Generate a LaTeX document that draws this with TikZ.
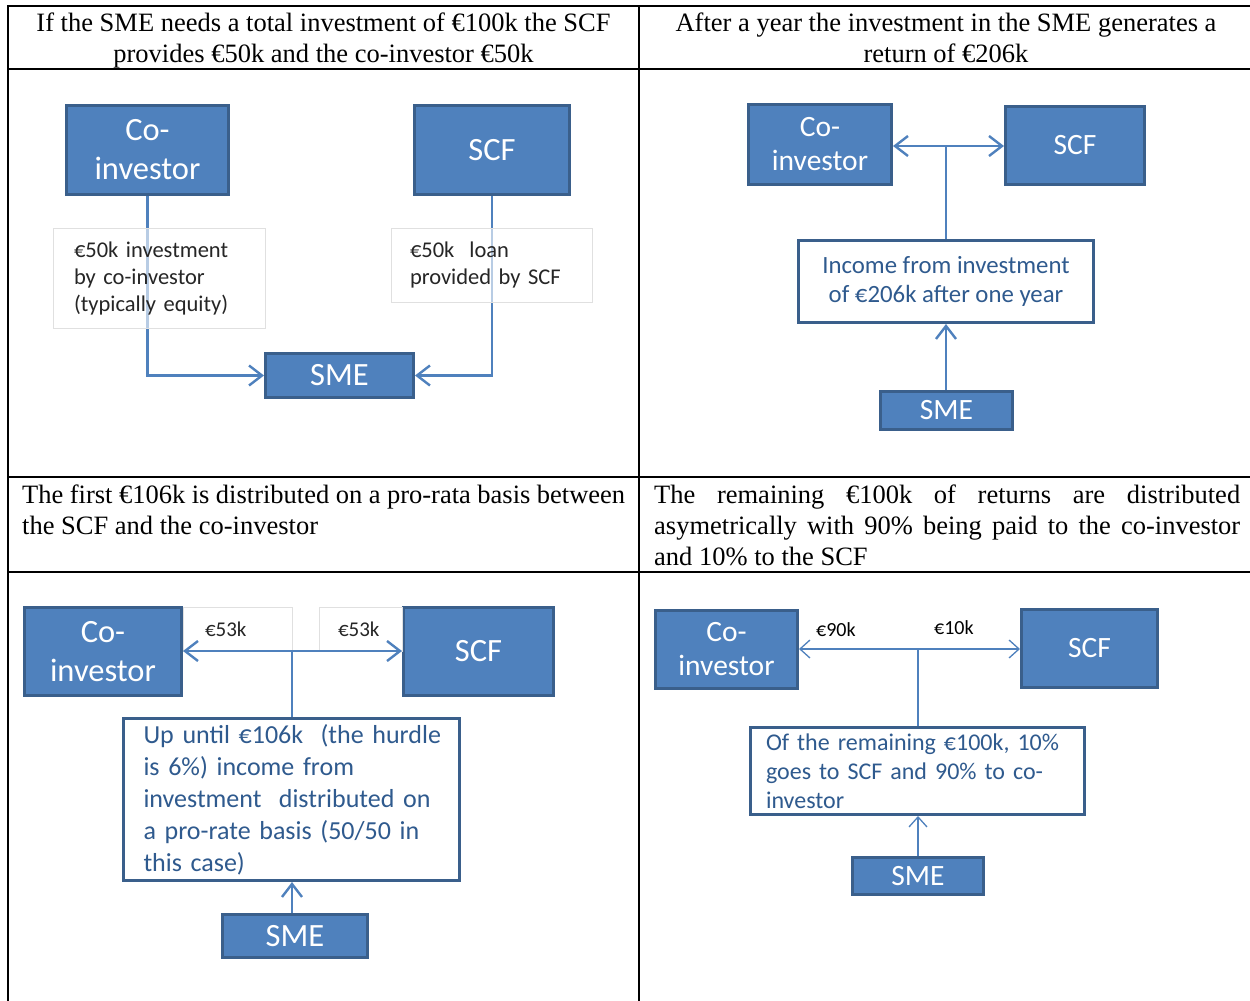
\documentclass[tikz,border=0pt]{standalone}
\usepackage{fontspec}
\setmainfont{Liberation Serif}
\newfontfamily\carl{Carlito}
\usetikzlibrary{arrows.meta}
\definecolor{boxfill}{HTML}{4F81BD}
\definecolor{boxline}{HTML}{3A5F8B}
\definecolor{conncol}{HTML}{4F81BD}
\definecolor{dtext}{HTML}{2F5A8E}
\definecolor{lgray}{HTML}{E0E0E0}
\newcommand{\bfA}{\carl\fontsize{32.5}{39}\selectfont}
\newcommand{\bfB}{\carl\fontsize{29.5}{34}\selectfont}
\begin{document}
\begin{tikzpicture}[x=1pt,y=-1pt,
  bluebox/.style={draw=boxline, fill=boxfill, line width=3pt, text=white, align=center, inner sep=0pt},
  whitebox/.style={draw=boxline, fill=white, line width=3pt, text=dtext, inner sep=0pt},
  labelbox/.style={draw=lgray, line width=0.8pt, fill=white, fill opacity=0.6, text opacity=1, text=black!85, inner sep=0pt},
  conn/.style={draw=conncol, line width=2.4pt},
  tip/.style={-{Straight Barb[length=13pt,width=20pt,line width=2.4pt]}},
  connthin/.style={draw=conncol, line width=1.3pt},
  tipthin/.style={-{Straight Barb[length=10pt,width=18pt,line width=1.3pt]}},
  gridline/.style={line width=2pt, black},
  hdr/.style={font=\fontsize{26.5}{31}\selectfont, inner sep=0pt}]
\useasboundingbox (0,0) rectangle (1250,1001);
\fill[white] (0,0) rectangle (1250,1001);

% table grid
\draw[gridline] (8,6) -- (1250,6);
\draw[gridline] (8,69) -- (1250,69);
\draw[gridline] (8,477) -- (1250,477);
\draw[gridline] (8,572) -- (1250,572);
\draw[gridline] (8,5) -- (8,1001);
\draw[gridline] (639,5) -- (639,1001);

% headers
\node[hdr, align=center] (h1) at (323.5,40) {If the SME needs a total investment of €100k the SCF\\provides €50k and the co-investor €50k};
\node[hdr, align=center] (h2) at (946,38) {After a year the investment in the SME generates a\\return of €206k};
\node[hdr, align=left, anchor=north west] (h3) at (22,485) {\makebox[603pt][s]{The first €106k is distributed on a pro-rata basis between}\\the SCF and the co-investor};
\node[hdr, align=left, anchor=north west] (h4) at (654,485) {\makebox[586pt][s]{The remaining €100k of returns are distributed}\\\makebox[586pt][s]{asymetrically with 90\% being paid to the co-investor}\\and 10\% to the SCF};

% ---------- panel 1
\node[bluebox, minimum width=162, minimum height=89, font=\bfA] (co1) at (147.5,150) {Co-\\investor};
\node[bluebox, minimum width=155, minimum height=89, font=\bfA] (scf1) at (492,150) {SCF};
\node[bluebox, minimum width=148, minimum height=44, font=\bfA] (sme1) at (339.5,375.5) {SME};
\draw[conn,tip] (co1.south) |- (sme1.west);
\draw[conn,tip] (scf1.south) |- (sme1.east);
\node[labelbox, minimum width=212, minimum height=100, text width=170, align=left, font=\carl\fontsize{22.5}{27}\selectfont] (lab1a) at (159,278) {€50k investment\\by co-investor\\(typically equity)};
\node[labelbox, minimum width=201, minimum height=74, text width=163, align=left, font=\carl\fontsize{22.5}{27}\selectfont] (lab1b) at (491.5,265) {€50k~ loan\\provided by SCF};

% ---------- panel 2
\node[bluebox, minimum width=143, minimum height=80, font=\bfB] (co2) at (820,144.5) {Co-\\investor};
\node[bluebox, minimum width=139, minimum height=78, font=\bfB] (scf2) at (1075,145.5) {SCF};
\node[whitebox, minimum width=295, minimum height=82, align=center, font=\carl\fontsize{24.8}{29}\selectfont] (inc2) at (946,281.5) {Income from investment\\of €206k after one year};
\node[bluebox, minimum width=132, minimum height=38, font=\bfB] (sme2) at (946.5,410.5) {SME};
\coordinate (j2) at (946,146);
\draw[conn] (inc2.north -| j2) -- (j2);
\draw[conn,tip] (j2) -- (j2 -| co2.east);
\draw[conn,tip] (j2) -- (j2 -| scf2.west);
\draw[conn,tip] (sme2.north -| j2) -- (inc2.south -| j2);

% ---------- panel 3
\node[bluebox, minimum width=157, minimum height=88, font=\bfA] (co3) at (103,651.5) {Co-\\investor};
\node[bluebox, minimum width=150, minimum height=88, font=\bfA] (scf3) at (478.5,651.5) {SCF};
\node[whitebox, minimum width=336, minimum height=162, text width=296, align=left, font=\carl\fontsize{26}{32}\selectfont] (txt3) at (291.5,799.5) {\mbox{Up until €106k~ (the hurdle}\\is 6\%) income from\\investment~ distributed on\\a pro-rate basis (50/50 in\\this case)};
\node[bluebox, minimum width=145, minimum height=43, font=\bfA] (sme3) at (295,936) {SME};
\node[labelbox, minimum width=109, minimum height=44, text width=65, align=left, font=\carl\fontsize{21}{24}\selectfont] (lab3a) at (237.5,629) {€53k};
\node[labelbox, minimum width=83, minimum height=44, text width=45, align=left, font=\carl\fontsize{21}{24}\selectfont] (lab3b) at (360.5,629) {€53k};
\coordinate (j3) at (292,651);
\draw[conn] (txt3.north -| j3) -- (j3);
\draw[conn,tip] (j3) -- (j3 -| co3.east);
\draw[conn,tip] (j3) -- (j3 -| scf3.west);
\draw[conn,tip] (sme3.north -| j3) -- (txt3.south -| j3);

% ---------- panel 4
\node[bluebox, minimum width=142, minimum height=78, font=\bfB] (co4) at (726.5,649.5) {Co-\\investor};
\node[bluebox, minimum width=136, minimum height=78, font=\bfB] (scf4) at (1089.5,648.5) {SCF};
\node[whitebox, minimum width=334, minimum height=87, text width=303, align=left, font=\carl\fontsize{24}{29}\selectfont] (txt4) at (917.5,771) {Of the remaining €100k, 10\%\\goes to SCF and 90\% to co-\\investor};
\node[bluebox, minimum width=131, minimum height=37, font=\bfB] (sme4) at (918,876) {SME};
\coordinate (j4) at (918,649);
\draw[connthin] (txt4.north -| j4) -- (j4);
\draw[connthin,tipthin] (j4) -- (j4 -| co4.east);
\draw[connthin,tipthin] (j4) -- (j4 -| scf4.west);
\draw[connthin,tipthin] (sme4.north -| j4) -- (txt4.south -| j4);
\node[anchor=west, inner sep=0pt, font=\carl\fontsize{20}{23}\selectfont] (l90) at (816,630) {€90k};
\node[anchor=west, inner sep=0pt, font=\carl\fontsize{20}{23}\selectfont] (l10) at (934,628) {€10k};
\end{tikzpicture}
\end{document}
